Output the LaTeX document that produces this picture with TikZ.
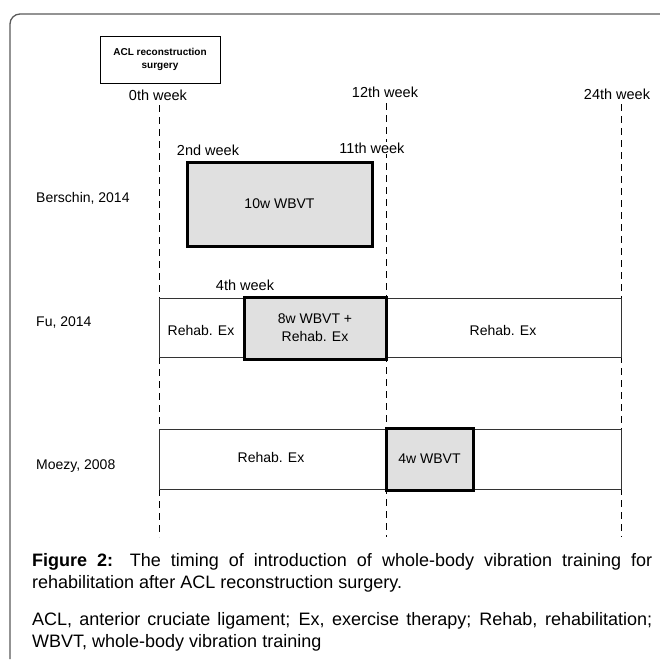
\documentclass[tikz,border=0pt]{standalone}
\usepackage{fontspec}
\setmainfont{Liberation Sans}
\usetikzlibrary{positioning}
\tikzset{
  timeline/.style={dash pattern=on 7pt off 5pt, line width=0.9pt},
  weeklbl/.style={font=\fontsize{14.5}{17}\selectfont, inner sep=1pt},
  studylbl/.style={font=\fontsize{14}{17}\selectfont, anchor=west, inner sep=0pt},
  phasebox/.style={draw=black!80, line width=0.9pt, fill=white, inner sep=0pt, font=\fontsize{14}{17}\selectfont},
  wbvtbox/.style={draw=black, line width=3pt, fill=black!12, inner sep=0pt, align=center, font=\fontsize{14}{18}\selectfont},
  plain/.style={font=\fontsize{14}{17}\selectfont, inner sep=0pt}
}

\begin{document}
\begin{tikzpicture}[x=1pt,y=-1pt]
  \useasboundingbox (0,0) rectangle (660,659);
  % frame
  \draw[black!65, line width=1.3pt, rounded corners=10pt] (10,659) -- (10,14) -- (660,14);

  % surgery box and week marks
  \node[draw, line width=0.9pt, minimum width=120pt, minimum height=47pt, align=center,
        font=\bfseries\fontsize{10}{13}\selectfont] (acl) at (160,59.5) {ACL reconstruction\\surgery};
  \node[weeklbl] (w0) at (158,95) {0th week};
  \node[weeklbl] (w12) at (385,92) {12th week};
  \node[weeklbl] (w24) at (617,94) {24th week};
  \coordinate (t0a) at (159,105);
  \coordinate (t0b) at (159,537);
  \coordinate (t12a) at (386,103);
  \coordinate (t12b) at (386,537);
  \coordinate (t24a) at (621,104);
  \coordinate (t24b) at (621,537);
  \draw[timeline] (t0a) -- (t0b);
  \draw[timeline] (t12a) -- (t12b);
  \draw[timeline] (t24a) -- (t24b);

  % Berschin
  \node[studylbl] (bers) at (36,198) {Berschin, 2014};
  \node[weeklbl] (w2) at (208,150) {2nd week};
  \node[weeklbl, fill=white] (w11) at (372,148) {11th week};
  \node[wbvtbox, minimum width=185pt, minimum height=84pt] (bersw) at (279.5,204) {10w WBVT};

  % Fu
  \node[studylbl] (fu) at (36,322) {Fu, 2014};
  \node[weeklbl] (w4) at (245,285) {4th week};
  \node[phasebox, minimum width=462pt, minimum height=59pt] (fuex) at (390,327.5) {};
  \node[plain] (fuexa) at (201,330) {Rehab. Ex};
  \node[plain] (fuexb) at (503,330) {Rehab. Ex};
  \node[wbvtbox, minimum width=142pt, minimum height=62pt] (fuw) at (315,328) {8w WBVT +\\Rehab. Ex};

  % Moezy
  \node[studylbl] (moe) at (36,466) {Moezy, 2008};
  \node[phasebox, minimum width=462pt, minimum height=60pt] (moeex) at (390,459) {};
  \node[plain] (moeexa) at (271,457) {Rehab. Ex};
  \node[wbvtbox, minimum width=87pt, minimum height=62pt] (moew) at (429.5,459) {4w WBVT};

  % caption
  \node[anchor=north west, text width=620pt, align=justify, inner sep=0pt,
        font=\fontsize{18}{22}\selectfont] (cap) at (32,553)
    {\hyphenpenalty=10000\exhyphenpenalty=10000\tolerance=9999
     \textbf{Figure 2:} The timing of introduction of whole-body vibration training for rehabilitation after ACL reconstruction surgery.\par\vspace{15pt}
     ACL, anterior cruciate ligament; Ex, exercise therapy; Rehab, rehabilitation; WBVT, whole-body vibration training};
\end{tikzpicture}
\end{document}
